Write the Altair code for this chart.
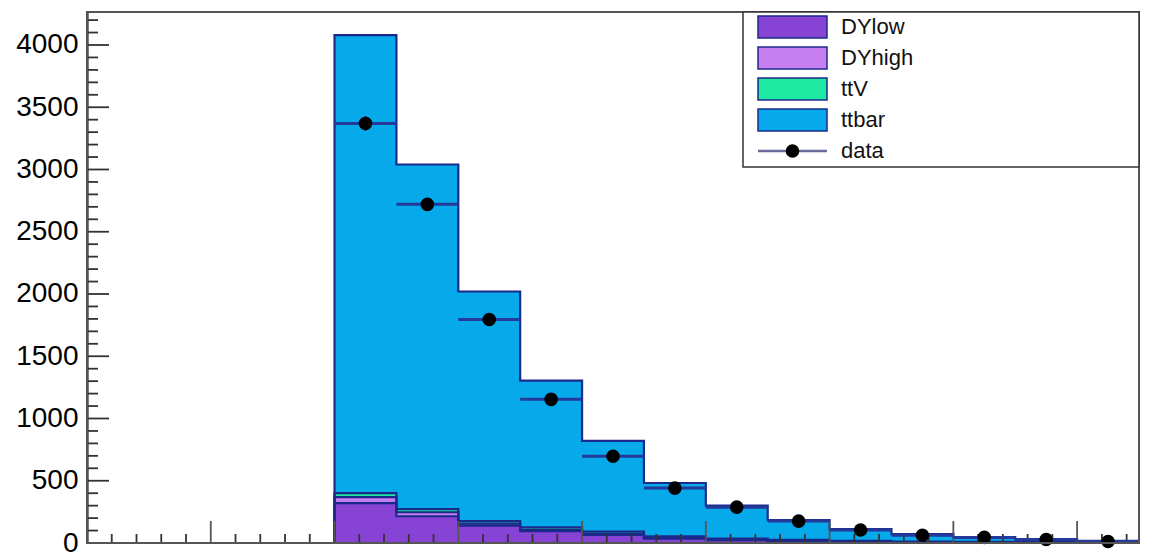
import altair as alt
import numpy as np
import pandas as pd

# Binning: 17 bins of width 50 on [0, 850]
bin_low = [0, 50, 100, 150, 200, 250, 300, 350, 400, 450, 500, 550, 600, 650, 700, 750, 800]
BIN_W = 50
X_MAX = 850

# Simulated samples (stacked bottom to top)
samples = ["DYlow", "DYhigh", "ttV", "ttbar"]
fill_colors = ["#8743d3", "#c77ef0", "#1de9a0", "#06aaea"]
dy_low = [0, 0, 0, 0, 320, 215, 140, 95, 65, 35, 22, 14, 9, 6, 4, 3, 2]
dy_high = [0, 0, 0, 0, 48, 32, 15, 10, 8, 5, 4, 3, 2, 1, 1, 0.5, 0.5]
ttv = [0, 0, 0, 0, 32, 25, 20, 20, 18, 14, 10, 8, 6, 5, 4, 3, 2]
ttbar = [0, 0, 0, 0, 3680, 2768, 1845, 1180, 729, 428, 264, 159, 95, 60, 39, 25, 12]

# Observed data
data_counts = [0, 0, 0, 0, 3370, 2720, 1795, 1154, 697, 441, 288, 176, 104, 62, 45, 28, 12]

# Axis ticks
y_major = list(range(0, 4001, 500))
y_minor = [v for v in range(0, 4201, 100) if v % 500 != 0]
x_major = list(range(0, 801, 100))
x_minor = [v for v in range(0, 851, 20) if v % 100 != 0]

W, H = 1052, 531
Y_MAX = 4265
LINE = "#1b2a8a"
FONT = "Liberation Sans"

xs = alt.Scale(domain=[0, X_MAX], nice=False, zero=False)
ys = alt.Scale(domain=[0, Y_MAX], nice=False)

components = [dy_low, dy_high, ttv, ttbar]
cum = np.cumsum(np.array(components, dtype=float), axis=0)

edges = bin_low + [X_MAX]


def step_frame(values):
    vals = list(values) + [values[-1]]
    return pd.DataFrame({"x": edges, "v": vals})


layers = []
# Filled stack: draw the tallest cumulative first, smaller ones on top
for k in reversed(range(len(samples))):
    df = step_frame(cum[k])
    layers.append(
        alt.Chart(df).mark_area(interpolate="step-after", color=fill_colors[k]).encode(
            x=alt.X("x:Q", scale=xs, axis=None),
            y=alt.Y("v:Q", scale=ys, stack=None,
                    axis=alt.Axis(values=y_major, format="d", labelFontSize=28, labelFont=FONT,
                                  labelColor="black", ticks=False, domain=True,
                                  domainColor="black", domainWidth=2, grid=False,
                                  title=None, labelPadding=9, labelFlush=False)),
        )
    )
# Outlines of each stacked histogram
for k in reversed(range(len(samples))):
    df = step_frame(cum[k])
    layers.append(
        alt.Chart(df).mark_line(interpolate="step-after", color=LINE, strokeWidth=2.2).encode(
            x=alt.X("x:Q", scale=xs),
            y=alt.Y("v:Q", scale=ys, stack=None),
        )
    )

# Inward axis ticks
ytick_df = pd.DataFrame({"v": y_major + y_minor,
                         "len": [22] * len(y_major) + [11] * len(y_minor)})
layers.append(
    alt.Chart(ytick_df).transform_filter("datum.len == 22").mark_rule(color="#333", strokeWidth=1.8).encode(
        y=alt.Y("v:Q", scale=ys), x=alt.value(0), x2=alt.value(22))
)
layers.append(
    alt.Chart(ytick_df).transform_filter("datum.len == 11").mark_rule(color="#333", strokeWidth=1.8).encode(
        y=alt.Y("v:Q", scale=ys), x=alt.value(0), x2=alt.value(11))
)
xtick_df = pd.DataFrame({"v": x_major + x_minor,
                         "len": [22] * len(x_major) + [9] * len(x_minor)})
layers.append(
    alt.Chart(xtick_df).transform_filter("datum.len == 22").mark_rule(color="#555", strokeWidth=1.8).encode(
        x=alt.X("v:Q", scale=xs), y=alt.value(H), y2=alt.value(H - 22))
)
layers.append(
    alt.Chart(xtick_df).transform_filter("datum.len == 9").mark_rule(color="#333", strokeWidth=1.8).encode(
        x=alt.X("v:Q", scale=xs), y=alt.value(H), y2=alt.value(H - 9))
)

# Data points with error bars
pts = pd.DataFrame({"lo": bin_low, "n": data_counts})
pts = pts[pts["n"] > 0]
pts_chart = alt.Chart(pts).transform_calculate(
    hi="datum.lo + %d" % BIN_W,
    c="datum.lo + %f" % (BIN_W / 2),
    elo="datum.n - sqrt(datum.n)",
    ehi="datum.n + sqrt(datum.n)",
)
DATA_LINE = "#25399a"
layers.append(pts_chart.mark_rule(color=DATA_LINE, strokeWidth=3).encode(
    x=alt.X("lo:Q", scale=xs), x2="hi:Q", y=alt.Y("n:Q", scale=ys)))
layers.append(pts_chart.mark_rule(color=DATA_LINE, strokeWidth=3).encode(
    x=alt.X("c:Q", scale=xs), y=alt.Y("elo:Q", scale=ys), y2="ehi:Q"))
layers.append(pts_chart.mark_circle(color="black", size=185, opacity=1).encode(
    x=alt.X("c:Q", scale=xs), y=alt.Y("n:Q", scale=ys)))

# Frame around the plotting area
layers.append(
    alt.Chart(pd.DataFrame({"a": [0]})).mark_rect(fill=None, stroke="#555", strokeWidth=2).encode(
        x=alt.value(0), x2=alt.value(W), y=alt.value(0), y2=alt.value(H))
)

# Legend box
layers.append(
    alt.Chart(pd.DataFrame({"a": [0]})).mark_rect(fill="white", stroke="#333", strokeWidth=1.5).encode(
        x=alt.value(656), x2=alt.value(W), y=alt.value(0), y2=alt.value(155))
)
leg = pd.DataFrame({"name": samples, "fill": fill_colors, "i": list(range(len(samples)))})
leg_chart = alt.Chart(leg).transform_calculate(
    py="15 + 31 * datum.i", y0="15 + 31 * datum.i - 11", y1="15 + 31 * datum.i + 11")
layers.append(leg_chart.mark_rect(stroke=LINE, strokeWidth=1.5).encode(
    x=alt.value(671), x2=alt.value(740),
    y=alt.Y("y0:Q", scale=None, axis=None), y2="y1:Q",
    fill=alt.Fill("fill:N", scale=None, legend=None)))
layers.append(leg_chart.mark_text(align="left", baseline="middle", fontSize=22, font=FONT, color="#111").encode(
    x=alt.value(754), y=alt.Y("py:Q", scale=None, axis=None), text="name:N"))

leg_data = pd.DataFrame({"name": ["data"], "i": [4]})
leg_d = alt.Chart(leg_data).transform_calculate(py="15 + 31 * datum.i")
layers.append(leg_d.mark_rule(color="#6a6a9c", strokeWidth=2.5).encode(
    x=alt.value(671), x2=alt.value(740), y=alt.Y("py:Q", scale=None, axis=None)))
layers.append(leg_d.mark_circle(color="black", size=185, opacity=1).encode(
    x=alt.value(705.5), y=alt.Y("py:Q", scale=None, axis=None)))
layers.append(leg_d.mark_text(align="left", baseline="middle", fontSize=22, font=FONT, color="#111").encode(
    x=alt.value(754), y=alt.Y("py:Q", scale=None, axis=None), text="name:N"))

chart = alt.layer(*layers).properties(
    width=W, height=H,
    autosize=alt.AutoSizeParams(type="none"),
    padding={"left": 87, "top": 12, "right": 12, "bottom": 10},
).configure_view(stroke=None).configure(background="white")

chart.save("out.html", embed_options={"renderer": "svg", "actions": False})
